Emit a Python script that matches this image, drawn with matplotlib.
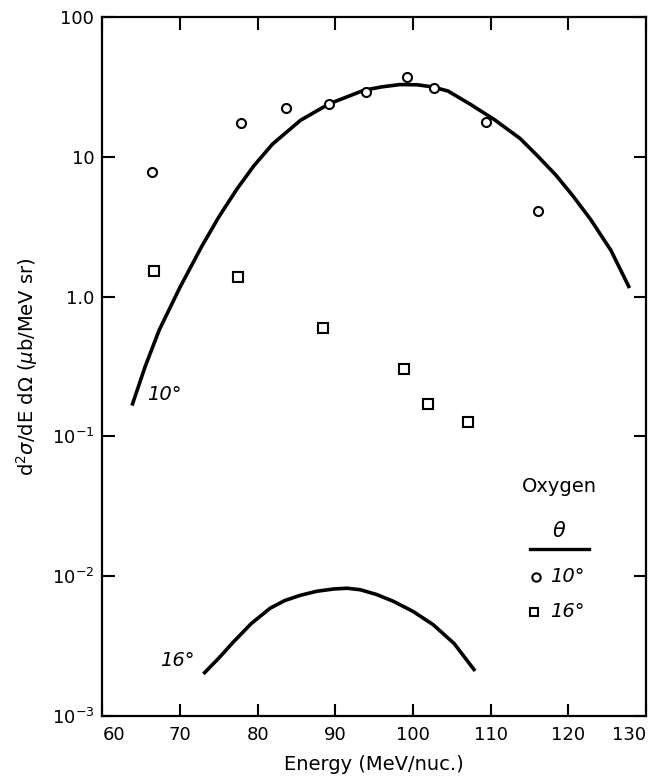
import matplotlib
matplotlib.use("Agg")
import matplotlib.pyplot as plt
from matplotlib.ticker import FixedLocator, FixedFormatter, NullLocator

# Data: 10 degree measurements (circles)
e10 = [66.4, 77.9, 83.7, 89.2, 94.0, 99.2, 102.7, 109.4, 116.1]
s10 = [7.8, 17.4, 22.3, 23.8, 29.0, 37.2, 31.0, 17.7, 4.1]
# 16 degree measurements (squares)
e16 = [66.6, 77.4, 88.4, 98.9, 101.9, 107.1]
s16 = [1.53, 1.39, 0.60, 0.305, 0.171, 0.126]

# Theory curve 10 degrees
c10_e = [63.8, 65.5, 67.3, 70.0, 72.8, 75.0, 77.3, 79.5, 81.9, 85.5, 89.2, 93.7, 96.0,
         98.3, 100.5, 102.5, 104.5, 107.4, 110.5, 113.8, 116.0, 118.4, 120.6, 122.9,
         125.5, 127.9]
c10_s = [0.166, 0.316, 0.575, 1.17, 2.29, 3.72, 5.85, 8.61, 12.3, 18.2, 23.9, 29.9, 31.6,
         32.8, 32.7, 31.6, 29.5, 23.7, 18.4, 13.5, 10.2, 7.4, 5.25, 3.55, 2.14, 1.15]
# Theory curve 16 degrees
c16_e = [73.0, 75.0, 76.9, 79.2, 81.6, 83.5, 85.5, 87.6, 89.8, 91.5, 93.2, 95.3, 97.5,
         100.0, 102.6, 105.3, 108.0]
c16_s = [0.0020, 0.0026, 0.0034, 0.0046, 0.0059, 0.0067, 0.0073, 0.0078, 0.0081, 0.0082,
         0.0080, 0.0074, 0.0066, 0.0056, 0.0045, 0.0033, 0.0021]

yticks = [1e-3, 1e-2, 1e-1, 1, 10, 100]
ytick_labels = [r"10$^{-3}$", r"10$^{-2}$", r"10$^{-1}$", "1.0", "10", "100"]
xticks = [60, 70, 80, 90, 100, 110, 120, 130]

plt.rcParams['font.family'] = ['DejaVu Sans']
plt.rcParams['mathtext.fontset'] = 'dejavusans'

fig = plt.figure(figsize=(6.57, 7.82), dpi=100)
ax = fig.add_axes([0.156, 0.0844, 0.827, 0.894])

ax.plot(c10_e, c10_s, color='black', lw=2.6, solid_capstyle='butt', solid_joinstyle='round')
ax.plot(c16_e, c16_s, color='black', lw=2.6, solid_capstyle='butt', solid_joinstyle='round')
ax.plot(e10, s10, linestyle='none', marker='o', ms=6.5, mfc='white', mec='black', mew=1.5)
ax.plot(e16, s16, linestyle='none', marker='s', ms=6.5, mfc='white', mec='black', mew=1.5)

ax.set_yscale('log')
ax.set_xlim(60, 130)
ax.set_ylim(1e-3, 100)
ax.yaxis.set_major_locator(FixedLocator(yticks))
ax.yaxis.set_major_formatter(FixedFormatter(ytick_labels))
ax.yaxis.set_minor_locator(NullLocator())
ax.xaxis.set_major_locator(FixedLocator(xticks))
ax.set_xticklabels([str(v) for v in xticks])

ax.tick_params(axis='both', which='major', direction='in', length=9, width=1.5,
               top=True, right=True, labelsize=13)
ax.tick_params(axis='x', pad=7)
ax.tick_params(axis='y', pad=6)
xt = ax.get_xticklabels()
xt[0].set_horizontalalignment('left')
xt[-1].set_horizontalalignment('right')
for sp in ax.spines.values():
    sp.set_linewidth(1.6)

ax.set_xlabel("Energy (MeV/nuc.)", fontsize=14, labelpad=8)
ax.set_ylabel(r"d$^2\sigma$/dE d$\Omega$ ($\mu$b/MeV sr)", fontsize=14, labelpad=8)

ax.text(67.9, 0.2, "10°", fontsize=14, style='italic', ha='center', va='center')
ax.text(69.6, 0.0025, "16°", fontsize=14, style='italic', ha='center', va='center')

# Legend
tr = ax.transAxes
ax.text(0.841, 0.328, "Oxygen", transform=tr, fontsize=14, ha='center', va='center')
ax.text(0.841, 0.264, r"$\theta$", transform=tr, fontsize=15, ha='center', va='center')
ax.plot([0.786, 0.895], [0.239, 0.239], transform=tr, color='black', lw=2.4)
ax.plot([0.797], [0.199], transform=tr, marker='o', ms=6, mfc='white', mec='black', mew=1.5)
ax.text(0.823, 0.199, "10°", transform=tr, fontsize=14, style='italic', ha='left', va='center')
ax.plot([0.795], [0.149], transform=tr, marker='s', ms=6, mfc='white', mec='black', mew=1.5)
ax.text(0.823, 0.149, "16°", transform=tr, fontsize=14, style='italic', ha='left', va='center')

fig.savefig("out.png", dpi=100)
